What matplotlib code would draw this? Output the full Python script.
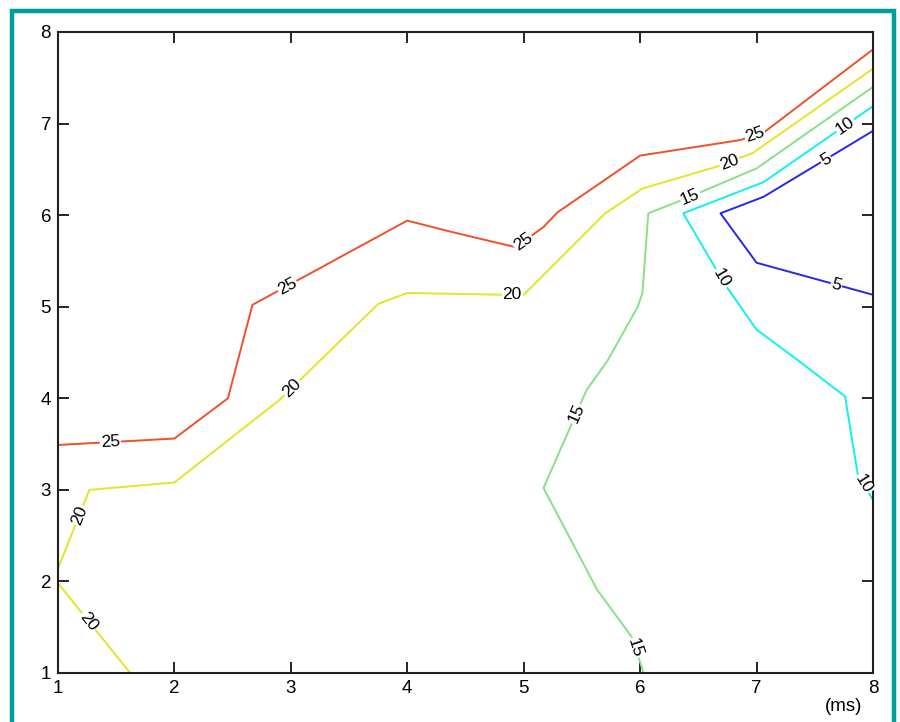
import numpy as np
import matplotlib
matplotlib.use('Agg')
import matplotlib.pyplot as plt
from matplotlib.patches import Rectangle

plt.rcParams['font.family'] = ['Liberation Sans', 'DejaVu Sans']

# contour levels, colours and the traced polylines (data coords)
levels = [25, 20, 15, 10, 5]
colors = ['#f0502a', '#e4e428', '#88e088', '#10f0f0', '#2626f0']

x25 = [1.0, 2.0, 2.46, 2.67, 4.0, 4.37, 4.93, 5.17, 5.29, 6.0, 6.86, 7.07, 8.0]
y25 = [3.49, 3.56, 4.0, 5.02, 5.94, 5.82, 5.65, 5.87, 6.03, 6.65, 6.82, 6.91, 7.81]

x20a = [1.62, 1.0]
y20a = [1.0, 1.98]
x20b = [1.0, 1.27, 2.0, 2.05, 2.91, 3.75, 4.0, 4.84, 5.0, 5.70, 6.02, 6.66, 6.97, 8.0]
y20b = [2.14, 3.0, 3.08, 3.13, 3.99, 5.03, 5.15, 5.13, 5.13, 6.02, 6.29, 6.53, 6.68, 7.6]

x15 = [6.03, 5.93, 5.63, 5.17, 5.54, 5.72, 5.98, 6.02, 6.07, 6.37, 7.0, 8.0]
y15 = [1.0, 1.39, 1.91, 3.02, 4.09, 4.41, 5.0, 5.15, 6.02, 6.17, 6.51, 7.4]

x10 = [8.0, 7.87, 7.76, 7.35, 7.0, 6.73, 6.37, 7.06, 8.0]
y10 = [2.89, 3.16, 4.02, 4.42, 4.75, 5.24, 6.02, 6.36, 7.19]

x5 = [8.0, 7.0, 6.69, 7.06, 8.0]
y5 = [5.13, 5.48, 6.02, 6.2, 6.92]

lines = {
    25: [(x25, y25)],
    20: [(x20a, y20a), (x20b, y20b)],
    15: [(x15, y15)],
    10: [(x10, y10)],
    5: [(x5, y5)],
}

# approximate spots where the inline labels sit
label_spots = {
    25: [(1.45, 3.51), (2.95, 5.27), (5.0, 5.7), (6.99, 6.86)],
    20: [(1.23, 1.53), (1.17, 2.73), (2.97, 4.17), (4.9, 5.13), (6.77, 6.57)],
    15: [(5.97, 1.28), (5.47, 3.82), (6.43, 6.2)],
    10: [(7.86, 3.02), (6.64, 5.27), (7.76, 6.98)],
    5: [(7.68, 5.22), (7.59, 6.62)],
}

fig = plt.figure(figsize=(9, 7.22), dpi=100)
ax = fig.add_axes([0.0644, 0.0679, 0.9056, 0.8878])
ax.set_xlim(1, 8)
ax.set_ylim(1, 8)

for lev, c in zip(levels, colors):
    for xs, ys in lines[lev]:
        ax.plot(xs, ys, color=c, lw=1.4, zorder=2)


def put_label(ax, lev, lx, ly):
    # snap label onto nearest polyline segment and align it with it
    best = None
    for xs, ys in lines[lev]:
        pts = ax.transData.transform(np.column_stack([xs, ys]))
        p = ax.transData.transform((lx, ly))
        for a, b in zip(pts[:-1], pts[1:]):
            d = b - a
            t = np.clip(np.dot(p - a, d) / np.dot(d, d), 0, 1)
            q = a + t * d
            dist = np.hypot(*(p - q))
            if best is None or dist < best[0]:
                best = (dist, q, d)
    _, q, d = best
    ang = np.degrees(np.arctan2(d[1], d[0]))
    if ang > 90:
        ang -= 180
    if ang < -90:
        ang += 180
    qx, qy = ax.transData.inverted().transform(q)
    ax.text(qx, qy, str(lev), rotation=ang, rotation_mode='anchor',
            ha='center', va='center', fontsize=12.5, color='black', zorder=3,
            bbox=dict(boxstyle='square,pad=0.05', fc='white', ec='none'))


for lev in levels:
    for lx, ly in label_spots[lev]:
        put_label(ax, lev, lx, ly)

ax.set_xticks(range(1, 9))
ax.set_yticks(range(1, 9))
ax.tick_params(direction='in', length=8, width=1.2, top=True, right=True,
               labelsize=13.5, pad=5)
for s in ax.spines.values():
    s.set_linewidth(1.5)
    s.set_color('#202020')

ax.text(0.958, 0.022, '(ms)', transform=fig.transFigure, ha='right',
        va='center', fontsize=13.5)

# teal frame around the picture
fig.patches.append(Rectangle((12 / 900, -0.05), 882 / 900, 1 - 11 / 722 + 0.05,
                             transform=fig.transFigure, fill=False,
                             ec='#009e9a', lw=3.2, zorder=0))

fig.savefig('out.png', dpi=100)
